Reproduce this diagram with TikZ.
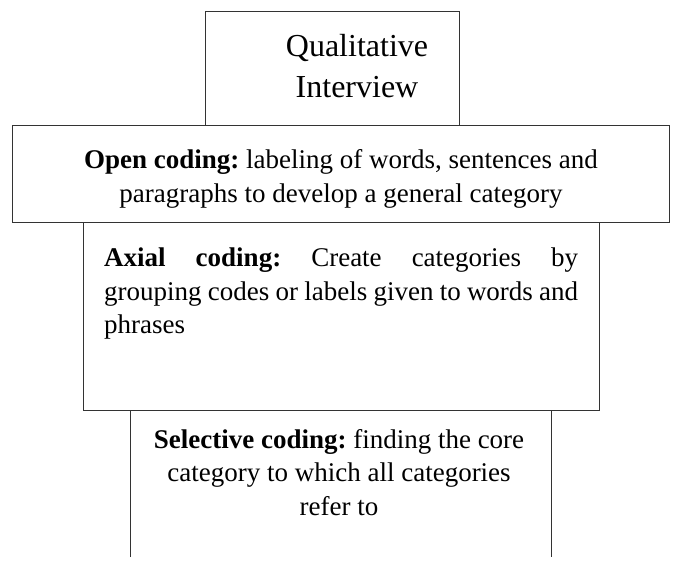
\documentclass[tikz,border=0pt]{standalone}
\usepackage{fontspec}
\setmainfont{Liberation Serif}
\begin{document}
\frenchspacing
\begin{tikzpicture}[x=1pt,y=-1pt,
  frame/.style={draw=black!80, line width=0.95pt},
  body/.style={font=\fontsize{27}{33.5}\selectfont, inner sep=0pt, align=center},
  title/.style={font=\fontsize{32}{41}\selectfont, inner sep=0pt, align=center}]
  \useasboundingbox (0,0) rectangle (679,564);
  % stacked boxes
  \draw[frame] (205,11) rectangle (459,125);
  \draw[frame] (12,125) rectangle (669,222);
  \draw[frame] (83,222) rectangle (599,410);
  \draw[frame] (130,557) -- (130,410) -- (551,410) -- (551,557);
  % texts (base anchor = baseline of the last line)
  \node[title, anchor=base] (qi) at (357,98) {Qualitative\\Interview};
  \node[body, anchor=base] (open) at (341,202)
    {\textbf{Open coding:} labeling of words, sentences and\\paragraphs to develop a general category};
  \node[body, anchor=north west, align=left] (axial) at (104,248)
    {\makebox[474pt][s]{\textbf{Axial coding:} Create categories by}\\
     \makebox[474pt][s]{grouping codes or labels given to words and}\\
     phrases};
  \node[body, anchor=north] (sel) at (339,429)
    {\textbf{Selective coding:} finding the core\\category to which all categories\\refer to};
\end{tikzpicture}
\end{document}
